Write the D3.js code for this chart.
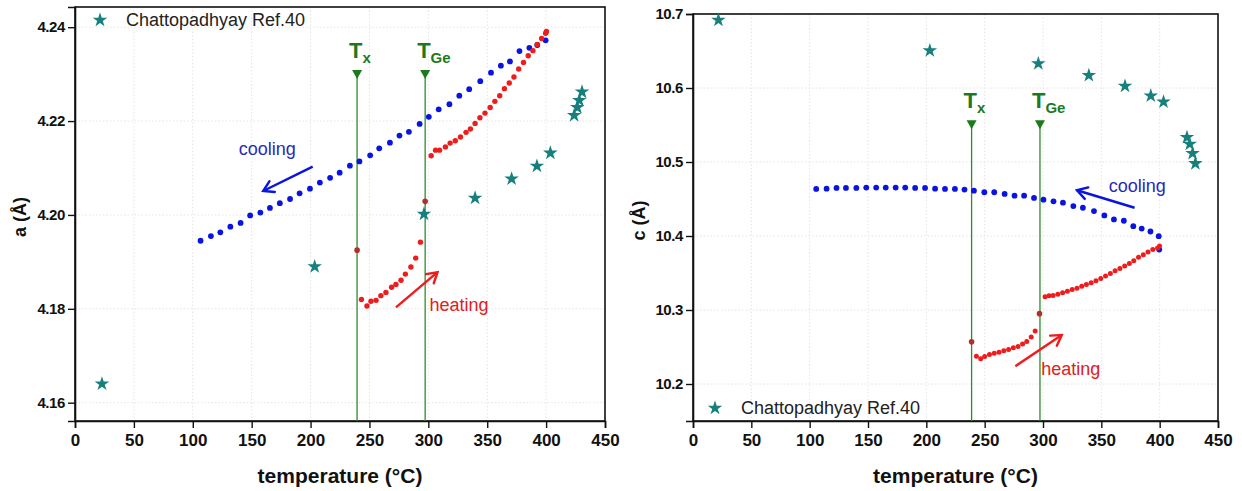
<!DOCTYPE html>
<html><head><meta charset="utf-8">
<script src="https://cdn.jsdelivr.net/npm/d3@7"></script>
<style>body{margin:0;background:#fff}svg{display:block}</style>
</head><body><svg id="c" width="1242" height="491"></svg>
<script>
// ---------- DATA ----------
const xTicks = [0,50,100,150,200,250,300,350,400,450];
const aTicks = [4.16,4.18,4.20,4.22,4.24];
const cTicks = [10.2,10.3,10.4,10.5,10.6,10.7];

// panel a : lattice parameter a
const aCoolT = [106.6,115.4,123.4,131.9,140.6,148.7,157.4,165.5,173.9,182.6,190.7,199.5,207.9,216.6,224.7,233.4,241.5,250.6,258.3,267.4,275.5,283.5,292.6,300.4,308.8,317.9,326.3,334.7,344.1,353.2,361.6,369.3,377.4,385.8,392.5,399.6];
const aCoolV = [4.1945,4.1955,4.1963,4.1975,4.1983,4.1999,4.2005,4.2015,4.2025,4.2034,4.2046,4.2056,4.2069,4.2079,4.2090,4.2105,4.2114,4.2127,4.2142,4.2154,4.2169,4.2177,4.2194,4.2209,4.2225,4.2236,4.2254,4.2268,4.2285,4.2303,4.2318,4.2327,4.2349,4.2356,4.2362,4.2372];
const aHeatT = [243.2,247.9,251.3,255.6,259.7,264.0,268.8,272.5,276.8,280.5,285.2,289.3,293.3,302.4,306.1,309.5,314.5,318.5,322.9,327.3,332.0,335.7,339.7,343.8,348.1,352.5,356.5,360.6,364.6,368.7,372.7,376.7,380.8,384.8,388.8,392.5,396.2,399.6,400.3];
const aHeatV = [4.1820,4.1806,4.1816,4.1818,4.1828,4.1835,4.1846,4.1852,4.1861,4.1874,4.1889,4.1908,4.1942,4.2126,4.2138,4.2138,4.2145,4.2153,4.2158,4.2166,4.2176,4.2183,4.2195,4.2207,4.2217,4.2229,4.2242,4.2254,4.2269,4.2281,4.2294,4.2311,4.2325,4.2339,4.2350,4.2363,4.2376,4.2387,4.2391];
const aTransT = [239.5,297.3];
const aTransV = [4.1925,4.2029];
const aRefT = [22.9,203.5,296.3,339.7,370.7,392.2,403.6,423.8,426.5,428.2,430.5];
const aRefV = [4.1640,4.1890,4.2002,4.2036,4.2077,4.2104,4.2132,4.2212,4.2229,4.2244,4.2262];

// panel c : lattice parameter c
const cCoolT = [105.6,114.5,123.0,131.1,140.0,148.5,157.0,165.2,173.7,181.9,190.4,198.9,207.5,216.0,224.5,232.7,240.8,249.7,258.2,267.1,275.6,283.8,292.3,300.4,309.0,317.1,326.0,334.2,343.7,352.6,360.8,369.3,377.4,384.6,392.1,399.2,399.6];
const cCoolV = [10.4636,10.4640,10.4649,10.4650,10.4650,10.4654,10.4654,10.4654,10.4654,10.4654,10.4650,10.4650,10.4640,10.4636,10.4636,10.4627,10.4613,10.4591,10.4591,10.4568,10.4545,10.4545,10.4514,10.4491,10.4468,10.4450,10.4405,10.4382,10.4337,10.4278,10.4224,10.4206,10.4133,10.4101,10.4061,10.3997,10.3816];
const cHeatT = [242.9,246.6,250.0,254.1,258.2,262.3,266.4,270.5,274.6,278.6,282.5,286.1,289.9,293.3,301.8,305.2,308.6,312.7,316.8,320.9,325.0,329.1,333.2,337.2,341.3,345.4,349.5,353.6,357.7,361.8,365.9,370.0,374.0,377.8,381.9,386.0,390.0,394.1,398.2,399.9];
const cHeatV = [10.2376,10.2340,10.2371,10.2399,10.2417,10.2430,10.2448,10.2467,10.2489,10.2507,10.2539,10.2575,10.2634,10.2716,10.3178,10.3191,10.3196,10.3214,10.3232,10.3255,10.3277,10.3295,10.3322,10.3345,10.3368,10.3395,10.3427,10.3458,10.3494,10.3531,10.3562,10.3594,10.3630,10.3667,10.3712,10.3748,10.3784,10.3816,10.3839,10.3866];
const cTransT = [238.8,297.0];
const cTransV = [10.2571,10.2951];
const cRefT = [21.8,203.0,296.0,339.3,370.3,392.4,403.3,423.4,425.8,428.2,430.6];
const cRefV = [10.6918,10.6506,10.6330,10.6171,10.6026,10.5895,10.5813,10.5333,10.5243,10.5116,10.4980];

const transLabels = ["x","Ge"];
const legendLabel = "Chattopadhyay Ref.40";

// ---------- STYLE ----------
const FONT = "Liberation Sans, Arial, sans-serif";
const BLUE = "#0a14e0", RED = "#ee1c1c", BROWN = "#b2302a", TEAL = "#16807c", GREEN = "#2e8b2e", DKGREEN = "#1b7a1b";
const svg = d3.select("#c");
const defs = svg.append("defs");
function marker(id, color){
  defs.append("marker").attr("id",id).attr("viewBox","-12 -8 14 16").attr("refX",0).attr("refY",0)
    .attr("markerWidth",14).attr("markerHeight",16).attr("markerUnits","userSpaceOnUse").attr("orient","auto")
    .append("path").attr("d","M-10,-6 L0,0 L-10,6").attr("fill","none").attr("stroke",color).attr("stroke-width",2.4)
    .attr("stroke-linecap","round").attr("stroke-linejoin","miter");
}
marker("arB", BLUE); marker("arR", RED);

function panel(o){
  const x = d3.scaleLinear().domain([0,450]).range([o.x0,o.x1]);
  const y = d3.scaleLinear().domain(o.yDom).range([o.y1,o.y0]);
  const g = svg.append("g");
  // grid
  g.selectAll(".gx").data(xTicks.slice(1,-1)).join("line")
    .attr("x1",d=>x(d)).attr("x2",d=>x(d)).attr("y1",o.y0).attr("y2",o.y1)
    .attr("stroke","#e4e4e4").attr("stroke-width",1).attr("stroke-dasharray","1.5,2");
  g.selectAll(".gy").data(o.yTicks).join("line")
    .attr("y1",d=>y(d)).attr("y2",d=>y(d)).attr("x1",o.x0).attr("x2",o.x1)
    .attr("stroke","#e4e4e4").attr("stroke-width",1).attr("stroke-dasharray","1.5,2");
  // frame
  g.append("rect").attr("x",o.x0).attr("y",o.y0).attr("width",o.x1-o.x0).attr("height",o.y1-o.y0)
    .attr("fill","none").attr("stroke","#111").attr("stroke-width",1.6);
  // axes
  const xMinor = d3.range(0,451,10);
  const gx = g.append("g").attr("transform",`translate(0,${o.y1})`);
  gx.call(d3.axisBottom(x).tickValues(xMinor).tickSize(4).tickFormat(""));
  gx.call(d3.axisBottom(x).tickValues(xTicks).tickSize(7).tickPadding(6).tickFormat(d3.format("d")));
  const yMinor = d3.range(Math.ceil(o.yDom[0]/o.minor - 1e-6), Math.floor(o.yDom[1]/o.minor + 1e-6)+1).map(k=>+(k*o.minor).toFixed(4));
  const gy = g.append("g").attr("transform",`translate(${o.x0},0)`);
  gy.call(d3.axisLeft(y).tickValues(yMinor).tickSize(4).tickFormat(""));
  gy.call(d3.axisLeft(y).tickValues(o.yTicks).tickSize(7).tickPadding(3).tickFormat(d3.format(o.fmt)));
  [gx,gy].forEach(a=>{
    a.selectAll(".domain").attr("stroke","#111").attr("stroke-width",1.6);
    a.selectAll(".tick line").attr("stroke","#111").attr("stroke-width",1.4);
    a.selectAll(".tick text").attr("font-family",FONT).attr("font-weight","bold")
      .attr("font-size",17).attr("fill","#111");
  });
  gy.selectAll(".tick text").attr("font-size",15).attr("letter-spacing","-0.4");
  // axis titles
  g.append("text").attr("x",(o.x0+o.x1)/2).attr("y",483).attr("text-anchor","middle")
    .attr("font-family",FONT).attr("font-weight","bold").attr("font-size",21).attr("fill","#111")
    .text("temperature (°C)");
  g.append("text").attr("transform",`translate(${o.yTitleX},${(o.y0+o.y1)/2+3}) rotate(-90)`).attr("text-anchor","middle")
    .attr("font-family",FONT).attr("font-weight","bold").attr("font-size",18).attr("fill","#111")
    .text(o.yTitle);
  // transition lines
  o.lineT.forEach((t,i)=>{
    const xx = x(t), yt = y(o.triV);
    g.append("line").attr("x1",xx).attr("x2",xx).attr("y1",yt).attr("y2",o.y1).attr("stroke",GREEN).attr("stroke-width",1.3);
    g.append("path").attr("d",`M${xx-5},${yt-5} L${xx+5},${yt-5} L${xx},${yt+4} Z`).attr("fill",DKGREEN);
    const tx = g.append("text").attr("x",xx-8).attr("y",yt-17).attr("font-family",FONT)
      .attr("font-weight","bold").attr("fill",DKGREEN).attr("font-size",22);
    tx.append("tspan").text("T");
    tx.append("tspan").attr("font-size",15).attr("dy",5).text(transLabels[i]);
  });
  // reference stars
  g.selectAll(".st").data(o.refT).join("path")
    .attr("transform",(d,i)=>`translate(${x(d)},${y(o.refV[i])})`)
    .attr("d",d3.symbol(d3.symbolStar,66)).attr("fill",TEAL);
  // cooling
  g.selectAll(".cb").data(o.coolT).join("circle").attr("cx",d=>x(d)).attr("cy",(d,i)=>y(o.coolV[i])).attr("r",2.9).attr("fill",BLUE);
  // heating
  g.selectAll(".hr").data(o.heatT).join("circle").attr("cx",d=>x(d)).attr("cy",(d,i)=>y(o.heatV[i])).attr("r",o.hr).attr("fill",RED);
  g.selectAll(".tr").data(o.transT).join("circle").attr("cx",d=>x(d)).attr("cy",(d,i)=>y(o.transV[i])).attr("r",2.8).attr("fill",BROWN);
  // annotations
  g.append("text").attr("x",x(o.coolLab[0])).attr("y",y(o.coolLab[1])).attr("font-family",FONT)
    .attr("font-size",18).attr("fill","#2a2ab8").text("cooling");
  g.append("line").attr("x1",x(o.coolAr[0])).attr("y1",y(o.coolAr[1])).attr("x2",x(o.coolAr[2])).attr("y2",y(o.coolAr[3]))
    .attr("stroke",BLUE).attr("stroke-width",2.4).attr("marker-end","url(#arB)");
  g.append("text").attr("x",x(o.heatLab[0])).attr("y",y(o.heatLab[1])).attr("font-family",FONT)
    .attr("font-size",18).attr("fill","#e02020").text("heating");
  g.append("line").attr("x1",x(o.heatAr[0])).attr("y1",y(o.heatAr[1])).attr("x2",x(o.heatAr[2])).attr("y2",y(o.heatAr[3]))
    .attr("stroke",RED).attr("stroke-width",2.4).attr("marker-end","url(#arR)");
  // legend
  g.append("path").attr("transform",`translate(${o.leg[0]},${o.leg[1]})`).attr("d",d3.symbol(d3.symbolStar,66)).attr("fill",TEAL);
  g.append("text").attr("x",o.leg[0]+26).attr("y",o.leg[1]+6).attr("font-family",FONT)
    .attr("font-size",18).attr("fill","#222").text(legendLabel);
}

panel({x0:75,x1:605,y0:7,y1:421,yDom:[4.1561,4.2443],yTicks:aTicks,minor:0.004,fmt:".2f",yTitle:"a (Å)",yTitleX:26,
  coolT:aCoolT,coolV:aCoolV,heatT:aHeatT,heatV:aHeatV,transT:aTransT,transV:aTransV,refT:aRefT,refV:aRefV,hr:2.7,
  lineT:[239.5,297.3],triV:4.2298,
  coolLab:[139,4.2127],coolAr:[201.8,4.2103,159.8,4.2051],heatLab:[301,4.1795],heatAr:[272.5,4.1803,307.8,4.1878],
  leg:[100,20]});
panel({x0:693,x1:1218,y0:14,y1:421,yDom:[10.15,10.7],yTicks:cTicks,minor:0.02,fmt:".1f",yTitle:"c (Å)",yTitleX:645,
  coolT:cCoolT,coolV:cCoolV,heatT:cHeatT,heatV:cHeatV,transT:cTransT,transV:cTransV,refT:cRefT,refV:cRefV,hr:2.5,
  lineT:[238.8,297.4],triV:10.5496,
  coolLab:[356.3,10.4600],coolAr:[378.5,10.4382,329.1,10.4618],heatLab:[298.4,10.2120],heatAr:[276.3,10.224,316.1,10.2661],
  leg:[715,408]});
</script></body></html>
